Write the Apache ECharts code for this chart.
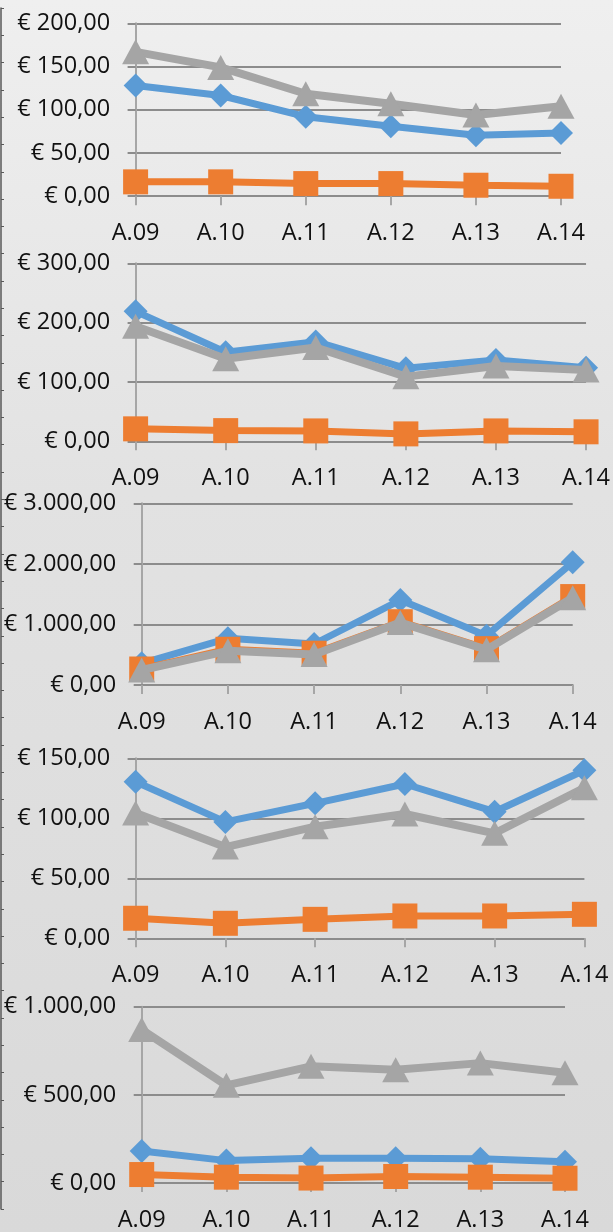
<!DOCTYPE html>
<html>
<head>
<meta charset="utf-8">
<script src="https://cdn.jsdelivr.net/npm/echarts@6/dist/echarts.min.js"></script>
<style>
html,body{margin:0;padding:0;}
body{background:linear-gradient(#efefef,#e2e2e2 40%,#d9d9d9);}
#c{width:613px;height:1232px;}
</style>
</head>
<body>
<div id="c"></div>
<script>
// ---- data ----
const categories = ['A.09','A.10','A.11','A.12','A.13','A.14'];

const p1Blue   = [128, 116.5, 92, 81, 70.5, 73];
const p1Orange = [16.6, 16.6, 14.6, 14.6, 12.7, 11.5];
const p1Gray   = [167, 149, 118.5, 107, 94, 104];

const p2Blue   = [219, 150, 168, 123, 137, 124];
const p2Orange = [21, 18, 17.5, 12.5, 17.5, 16];
const p2Gray   = [194, 139, 158, 109, 127, 120];

const p3Blue   = [358, 771, 677, 1403, 814, 2026];
const p3Orange = [264, 590, 525, 1045, 600, 1460];
const p3Gray   = [248, 565, 505, 1030, 583, 1440];

const p4Blue   = [130.5, 97, 112.5, 128.6, 105.5, 140];
const p4Orange = [16.7, 12.5, 15.8, 18.6, 18.6, 20];
const p4Gray   = [104.5, 76, 93, 103.6, 87.5, 125.5];

const p5Blue   = [182, 127, 141, 141, 137, 120];
const p5Orange = [48, 33, 28, 37, 33, 27];
const p5Gray   = [870, 554, 662, 643, 680, 625];

// value axis ranges (max, interval)
const axisMax      = [200, 300, 3000, 150, 1000];
const axisInterval = [50, 100, 1000, 50, 500];

const panelData = [
  [p1Blue, p1Orange, p1Gray],
  [p2Blue, p2Orange, p2Gray],
  [p3Blue, p3Orange, p3Gray],
  [p4Blue, p4Orange, p4Gray],
  [p5Blue, p5Orange, p5Gray]
];

// ---- layout ----
const layout = [
  {left:135.6, right:613-561,   top:23.3,  bottom:1232-196.2},
  {left:135.6, right:613-586.4, top:263.3, bottom:1232-441.3},
  {left:141.7, right:613-572.7, top:503.3, bottom:1232-685},
  {left:135.6, right:613-584.4, top:758.3, bottom:1232-938.3},
  {left:141.7, right:613-565,   top:1006.7,bottom:1232-1186.3}
];

const FONT = '"Open Sans"';
const FSIZE = 23.5;
const colors = ['#5B9BD5', '#ED7D31', '#A5A5A5'];
const symbols = ['diamond', 'rect', 'triangle'];
const symSizes = [24, 25, [27, 25]];
const lineWidths = [7, 7, 8];

function euro(v){
  const s = Number(v).toFixed(2);
  let [i, d] = s.split('.');
  i = i.replace(/\B(?=(\d{3})+(?!\d))/g, '.');
  return '€ ' + i + ',' + d;
}

const grid = [], xAxis = [], yAxis = [], series = [];
layout.forEach((L, k) => {
  grid.push(Object.assign({containLabel:false}, L));
  xAxis.push({
    type:'category', gridIndex:k, data:categories, boundaryGap:false,
    axisLine:{show:true, onZero:true, lineStyle:{color:'#8c8c8c', width:2}},
    axisTick:{show:true, length:9, lineStyle:{color:'#a6a6a6', width:2}},
    axisLabel:{fontFamily:FONT, fontSize:FSIZE, color:'#111', margin:25, interval:0},
    splitLine:{show:false}
  });
  yAxis.push({
    type:'value', gridIndex:k, min:0, max:axisMax[k], interval:axisInterval[k],
    axisLine:{show:true, lineStyle:{color:'#a6a6a6', width:2}},
    axisTick:{show:true, length:8, lineStyle:{color:'#8c8c8c', width:2}},
    axisLabel:{fontFamily:FONT, fontSize:FSIZE, color:'#111', margin:25.5, formatter:euro},
    splitLine:{show:true, lineStyle:{color:'#8c8c8c', width:2}}
  });
  panelData[k].forEach((arr, s) => {
    series.push({
      type:'line', xAxisIndex:k, yAxisIndex:k, data:arr,
      symbol:symbols[s], symbolSize:symSizes[s], showAllSymbol:true,
      lineStyle:{color:colors[s], width:lineWidths[s]},
      itemStyle:{color:colors[s]},
      z:2+s, silent:true
    });
  });
});

// left border line with small ticks
grid.push({left:1, top:8, width:20, height:1201});
xAxis.push({type:'value', gridIndex:5, show:false});
yAxis.push({
  type:'value', gridIndex:5, min:0, max:44, interval:1,
  axisLine:{show:true, lineStyle:{color:'#595959', width:1.5}},
  axisTick:{show:true, inside:true, length:3, lineStyle:{color:'#595959', width:1}},
  axisLabel:{show:false}, splitLine:{show:false}
});

const chart = echarts.init(document.getElementById('c'), null, {renderer:'canvas'});
chart.setOption({
  animation:false,
  backgroundColor:{type:'linear', x:0, y:0, x2:0, y2:1,
    colorStops:[{offset:0,color:'#efefef'},{offset:0.4,color:'#e2e2e2'},{offset:1,color:'#d9d9d9'}]},
  grid, xAxis, yAxis, series
});
</script>
</body>
</html>
